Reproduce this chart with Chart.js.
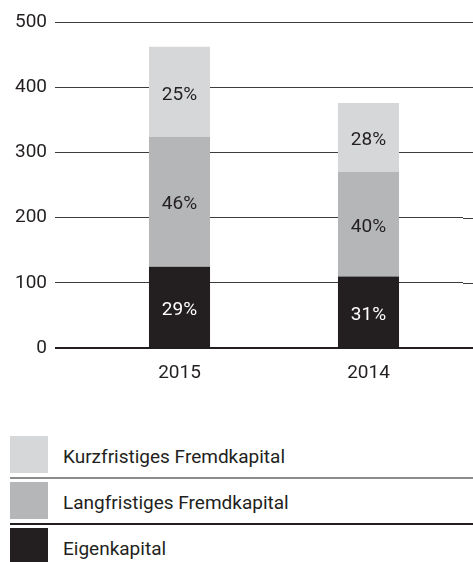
<!DOCTYPE html>
<html>
<head>
<meta charset="utf-8">
<script src="https://cdn.jsdelivr.net/npm/chart.js@4"></script>
<style>
    body { margin: 0; background: #fff; font-family: Roboto, sans-serif; color: #231f20; }
    #wrap { position: relative; width: 473px; height: 562px; overflow: hidden; }
    #chart-box { position: absolute; left: 0; top: 0; width: 473px; height: 400px; }
    #legend { position: absolute; left: 10px; top: 436px; width: 463px; }
    .row { display: flex; height: 37px; }
    .swatch { width: 38px; height: 37px; flex: none; }
    .txt { margin-left: 15px; font-size: 19px; line-height: 37px; transform: translateY(1.5px); white-space: nowrap; }
    .sep { height: 2px; margin: 4px 0 3px 0; }
</style>
</head>
<body>
<div id="wrap">
    <div id="chart-box"><canvas id="bar-canvas"></canvas></div>
    <div id="legend"></div>
</div>
<script>
// Data
const years = ['2015', '2014'];
const eigenkapital = [125, 110];
const langfristig = [199, 160];
const kurzfristig = [138, 106];
const pctEigen = ['29%', '31%'];
const pctLang = ['46%', '40%'];
const pctKurz = ['25%', '28%'];
const yTicks = [0, 100, 200, 300, 400, 500];

const datasets = [
    { label: 'Eigenkapital', data: eigenkapital, backgroundColor: '#231f20', pct: pctEigen, textColor: '#ffffff', sepColor: null },
    { label: 'Langfristiges Fremdkapital', data: langfristig, backgroundColor: '#b5b6b8', pct: pctLang, textColor: '#231f20', sepColor: '#231f20' },
    { label: 'Kurzfristiges Fremdkapital', data: kurzfristig, backgroundColor: '#d6d7d9', pct: pctKurz, textColor: '#231f20', sepColor: '#8c8c8c' }
];

// percentage labels inside the bar segments
const segmentLabels = {
    id: 'segmentLabels',
    afterDatasetsDraw(chart) {
        const ctx = chart.ctx;
        ctx.save();
        ctx.font = '19px Roboto, sans-serif';
        ctx.textAlign = 'center';
        ctx.textBaseline = 'middle';
        chart.data.datasets.forEach((ds, i) => {
            chart.getDatasetMeta(i).data.forEach((bar, j) => {
                ctx.fillStyle = ds.textColor;
                ctx.fillText(ds.pct[j], bar.x, (bar.y + bar.base) / 2 + 3);
            });
        });
        ctx.restore();
    }
};

// gridlines run on to the right edge of the canvas
const gridExtend = {
    id: 'gridExtend',
    beforeDatasetsDraw(chart) {
        const ctx = chart.ctx;
        const y = chart.scales.y;
        ctx.save();
        y.ticks.forEach(t => {
            const py = Math.round(y.getPixelForValue(t.value)) + (t.value === 0 ? 0 : 0.5);
            ctx.strokeStyle = t.value === 0 ? '#231f20' : '#3c3c3c';
            ctx.lineWidth = t.value === 0 ? 2 : 1;
            ctx.beginPath();
            ctx.moveTo(chart.chartArea.right, py);
            ctx.lineTo(chart.width, py);
            ctx.stroke();
        });
        ctx.restore();
    }
};

new Chart(document.getElementById('bar-canvas'), {
    type: 'bar',
    data: {
        labels: years,
        datasets: datasets.map(d => ({
            label: d.label,
            data: d.data,
            backgroundColor: d.backgroundColor,
            pct: d.pct,
            textColor: d.textColor,
            borderWidth: 0,
            barPercentage: 0.323,
            categoryPercentage: 1
        }))
    },
    options: {
        responsive: true,
        maintainAspectRatio: false,
        animation: false,
        layout: { padding: { top: 22, right: 10, bottom: 9, left: 0 } },
        plugins: {
            legend: { display: false },
            tooltip: { enabled: false }
        },
        scales: {
            x: {
                stacked: true,
                grid: { display: false },
                border: { display: false },
                ticks: { color: '#231f20', font: { family: 'Roboto', size: 19 }, padding: 6 }
            },
            y: {
                stacked: true,
                min: 0,
                max: 500,
                afterFit: s => { s.width = 85; },
                afterBuildTicks: s => { s.ticks = yTicks.map(v => ({ value: v })); },
                border: { display: false },
                grid: {
                    color: c => c.tick && c.tick.value === 0 ? '#231f20' : '#3c3c3c',
                    lineWidth: c => c.tick && c.tick.value === 0 ? 2 : 1,
                    tickLength: 30,
                    drawTicks: true
                },
                ticks: { color: '#231f20', font: { family: 'Roboto', size: 19 }, padding: 8 }
            }
        }
    },
    plugins: [gridExtend, segmentLabels]
});

// Legend
const legend = document.getElementById('legend');
[...datasets].reverse().forEach(d => {
    const row = document.createElement('div');
    row.className = 'row';
    row.innerHTML = `<div class="swatch" style="background:${d.backgroundColor}"></div><div class="txt">${d.label}</div>`;
    legend.appendChild(row);
    if (d.sepColor) {
        const sep = document.createElement('div');
        sep.className = 'sep';
        sep.style.background = d.sepColor;
        legend.appendChild(sep);
    }
});
</script>
</body>
</html>
